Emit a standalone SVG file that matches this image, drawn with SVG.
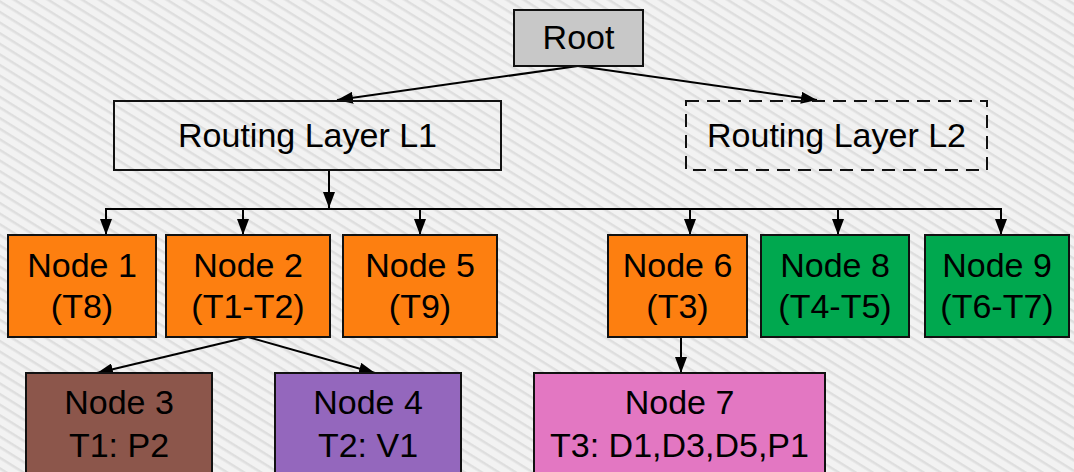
<svg xmlns="http://www.w3.org/2000/svg" width="1074" height="472" viewBox="0 0 1074 472">
<style>
.box{stroke:#111;stroke-width:2}
.t{font-family:"Liberation Sans",Arial,sans-serif;font-size:34px;fill:#000;text-anchor:middle}
.c{fill:none;stroke:#000;stroke-width:2}
</style>
<defs>
<pattern id="bg" width="10" height="9" patternUnits="userSpaceOnUse" patternTransform="rotate(32)">
<rect width="10" height="9" fill="#f2f2f2"/>
<rect y="0" width="10" height="2.5" fill="#dedede"/>
</pattern>
<marker id="ah" markerUnits="userSpaceOnUse" markerWidth="16" markerHeight="12" refX="16" refY="6" orient="auto">
<path d="M0,0 L16,6 L0,12 z" fill="#000"/>
</marker>
</defs>
<rect width="1074" height="472" fill="url(#bg)"/>
<g id="connectors">
<line class="c" x1="578" y1="66" x2="337" y2="100" marker-end="url(#ah)"/>
<line class="c" x1="578" y1="66" x2="817" y2="100" marker-end="url(#ah)"/>
<line class="c" x1="329" y1="170" x2="329" y2="208" marker-end="url(#ah)"/>
<line class="c" x1="105" y1="209" x2="1002" y2="209"/>
<line class="c" x1="106" y1="209" x2="106" y2="235" marker-end="url(#ah)"/>
<line class="c" x1="243" y1="209" x2="243" y2="235" marker-end="url(#ah)"/>
<line class="c" x1="420" y1="209" x2="420" y2="235" marker-end="url(#ah)"/>
<line class="c" x1="690" y1="209" x2="690" y2="235" marker-end="url(#ah)"/>
<line class="c" x1="838" y1="209" x2="838" y2="235" marker-end="url(#ah)"/>
<line class="c" x1="1001" y1="209" x2="1001" y2="235" marker-end="url(#ah)"/>
<line class="c" x1="248" y1="337" x2="97" y2="373" marker-end="url(#ah)"/>
<line class="c" x1="248" y1="337" x2="375" y2="373" marker-end="url(#ah)"/>
<line class="c" x1="681" y1="337" x2="681" y2="373" marker-end="url(#ah)"/>
</g>
<g id="root"><rect class="box" x="514" y="10" width="129" height="56" fill="#c8c8c8"/><text class="t" x="578.5" y="49">Root</text></g>
<g id="l1"><rect class="box" x="114" y="101" width="387" height="69" fill="none"/><text class="t" x="307.5" y="147">Routing Layer L1</text></g>
<g id="l2"><rect class="box" x="686" y="101" width="301" height="69" fill="none" stroke-dasharray="13,8"/><text class="t" x="836.5" y="147">Routing Layer L2</text></g>
<g id="n1"><rect class="box" x="8" y="235" width="148" height="102" fill="#fd7f10"/><text class="t" x="82" y="277">Node 1</text><text class="t" x="82" y="318">(T8)</text></g>
<g id="n2"><rect class="box" x="166" y="235" width="164" height="102" fill="#fd7f10"/><text class="t" x="248" y="277">Node 2</text><text class="t" x="248" y="318">(T1-T2)</text></g>
<g id="n5"><rect class="box" x="343" y="235" width="154" height="102" fill="#fd7f10"/><text class="t" x="420" y="277">Node 5</text><text class="t" x="420" y="318">(T9)</text></g>
<g id="n6"><rect class="box" x="608" y="235" width="139" height="102" fill="#fd7f10"/><text class="t" x="677.5" y="277">Node 6</text><text class="t" x="677.5" y="318">(T3)</text></g>
<g id="n8"><rect class="box" x="761" y="235" width="148" height="102" fill="#00a84f"/><text class="t" x="835" y="277">Node 8</text><text class="t" x="835" y="318">(T4-T5)</text></g>
<g id="n9"><rect class="box" x="925" y="235" width="144" height="102" fill="#00a84f"/><text class="t" x="997" y="277">Node 9</text><text class="t" x="997" y="318">(T6-T7)</text></g>
<g id="n3"><rect class="box" x="26" y="373" width="186" height="110" fill="#8c564b"/><text class="t" x="119" y="414">Node 3</text><text class="t" x="119" y="457">T1: P2</text></g>
<g id="n4"><rect class="box" x="275" y="373" width="186" height="110" fill="#9467bd"/><text class="t" x="368" y="414">Node 4</text><text class="t" x="368" y="457">T2: V1</text></g>
<g id="n7"><rect class="box" x="534" y="373" width="291" height="110" fill="#e377c2"/><text class="t" x="679.5" y="414">Node 7</text><text class="t" x="679.5" y="457">T3: D1,D3,D5,P1</text></g>
</svg>
